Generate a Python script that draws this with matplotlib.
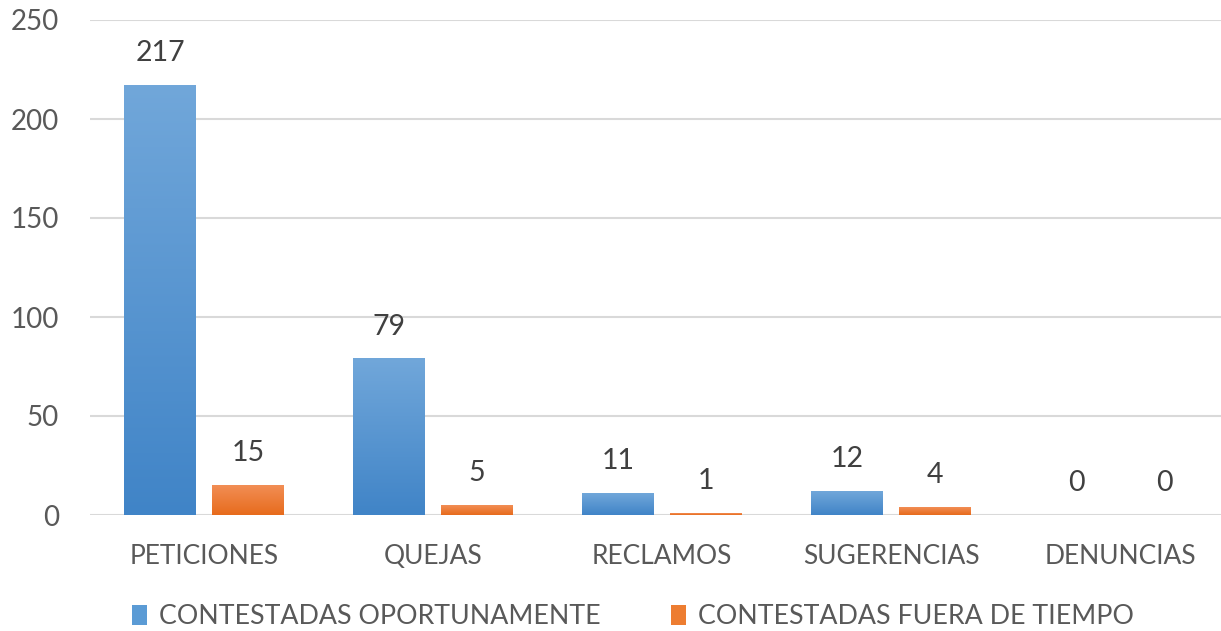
import numpy as np
import matplotlib
matplotlib.use('Agg')
import matplotlib.pyplot as plt
from matplotlib.colors import LinearSegmentedColormap
from matplotlib.patches import Patch

# Data
categories = ['PETICIONES', 'QUEJAS', 'RECLAMOS', 'SUGERENCIAS', 'DENUNCIAS']
oportunas = [217, 79, 11, 12, 0]
fuera_tiempo = [15, 5, 1, 4, 0]
series_names = ['CONTESTADAS OPORTUNAMENTE', 'CONTESTADAS FUERA DE TIEMPO']

plt.rcParams['font.family'] = ['Lato', 'DejaVu Sans']

W, H = 1221, 631
fig = plt.figure(figsize=(W / 100, H / 100), dpi=100, facecolor='white')
ax = fig.add_axes([89.5 / W, 116 / H, 1 - 89.5 / W, 495 / H])

blue_cmap = LinearSegmentedColormap.from_list('b', ['#4084c7', '#71a7da'])
orange_cmap = LinearSegmentedColormap.from_list('o', ['#e76b1c', '#f28e55'])
grad = np.linspace(0, 1, 256).reshape(-1, 1)

x = np.arange(len(categories))
bw = 0.314
off = 0.192

def draw_bars(xs, vals, cmap):
    bars = ax.bar(xs, vals, bw, color='none', edgecolor='none', zorder=3)
    for b, v in zip(bars, vals):
        if v <= 0:
            continue
        x0 = b.get_x()
        ax.imshow(grad, cmap=cmap, origin='lower', aspect='auto',
                  extent=(x0, x0 + bw, 0, v), zorder=3, interpolation='bilinear')
    return bars

draw_bars(x - off, oportunas, blue_cmap)
draw_bars(x + off, fuera_tiempo, orange_cmap)

for xi, v in zip(x - off, oportunas):
    ax.annotate(str(v), (xi, v), xytext=(0, 23), textcoords='offset points',
                ha='center', va='center', fontsize=20.5, color='#404040')
for xi, v in zip(x + off, fuera_tiempo):
    ax.annotate(str(v), (xi, v), xytext=(0, 23), textcoords='offset points',
                ha='center', va='center', fontsize=20.5, color='#404040')

ax.set_xlim(-0.5, (W - 204) / 229)
ax.set_ylim(0, 250)
ax.set_yticks(range(0, 251, 50))
ax.set_xticks(x)
ax.set_xticklabels(categories, fontsize=19)
ax.grid(axis='y', color='#d9d9d9', linewidth=1.5, zorder=0)
ax.set_axisbelow(True)
for s in ax.spines.values():
    s.set_visible(False)
ax.tick_params(axis='both', length=0, colors='#595959')
ax.tick_params(axis='y', labelsize=20, pad=22)
ax.tick_params(axis='x', pad=21)

handles = [Patch(facecolor='#5b9bd5'), Patch(facecolor='#ed7d31')]
fig.legend(handles, series_names, loc='center', bbox_to_anchor=(0.5185, 14 / H),
           ncol=2, frameon=False, fontsize=19.3, labelcolor='#595959',
           handlelength=0.55, handleheight=0.75, handletextpad=0.45, columnspacing=2.65)

fig.savefig('out.png', dpi=100, facecolor='white')
